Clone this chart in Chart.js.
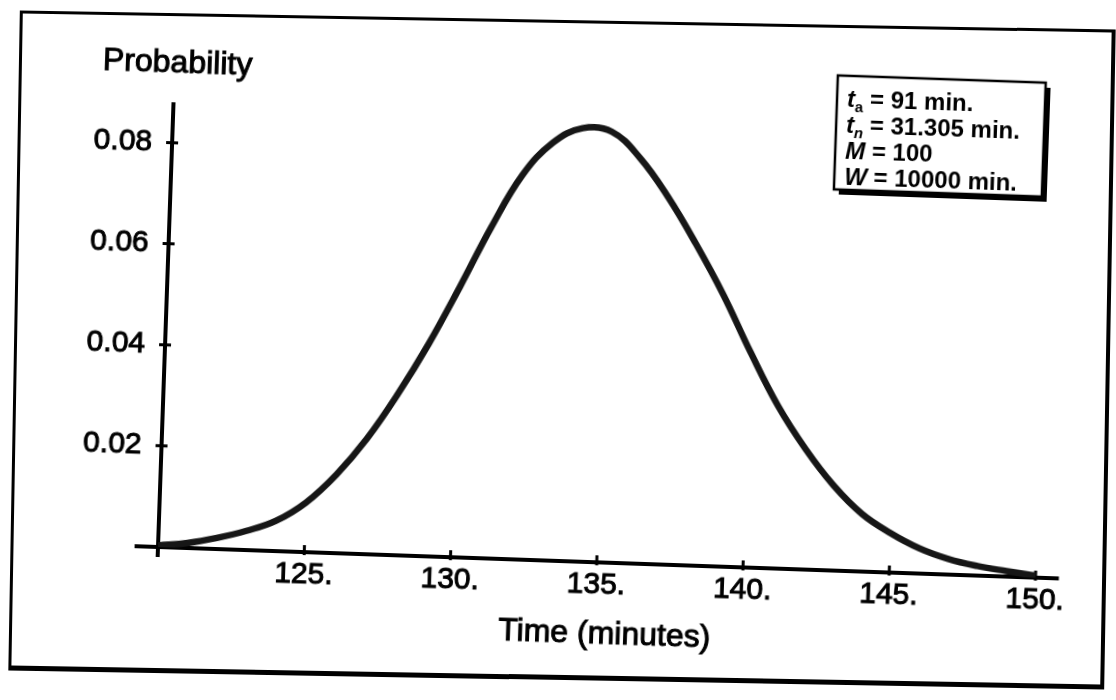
<!DOCTYPE html>
<html>
<head>
<meta charset="utf-8">
<script src="https://cdn.jsdelivr.net/npm/chart.js@4.4.1/dist/chart.umd.min.js"></script>
<style>
  html, body { margin: 0; padding: 0; background: #fff; overflow: hidden; }
  #page { position: relative; width: 1116px; height: 700px; }
  /* scanned page: outer frame and plot are both a little tilted */
  #frame { position: absolute; left: 14px; top: 20px; width: 1096px; height: 660px; box-sizing: border-box;
           border: 3px solid #000; border-bottom-width: 5px; border-right-width: 4px; transform: rotate(1deg); }
  #plot { position: absolute; left: 0; top: 0; width: 1116px; height: 700px;
          transform-origin: 158px 547px; transform: rotate(2deg); }
</style>
</head>
<body>
<div id="page">
  <div id="frame"></div>
  <div id="plot"><canvas id="chart"></canvas></div>
</div>
<script>
// Time (minutes) and probability
const times = [120, 121, 122, 123, 124, 125, 126, 127, 128, 129, 130,
               131, 132, 133, 134, 135, 136, 137, 138, 139, 140,
               141, 142, 143, 144, 145, 146, 147, 148, 149, 150];
const probability = [0.0003, 0.0010, 0.0022, 0.0038, 0.0060, 0.0098, 0.0155, 0.0228, 0.0318, 0.0420, 0.0535,
                     0.0655, 0.0760, 0.0826, 0.0857, 0.0852, 0.0802, 0.0727, 0.0637, 0.0538, 0.0426,
                     0.0322, 0.0238, 0.0168, 0.0114, 0.0078, 0.0050, 0.0031, 0.0019, 0.0011, 0.0004];

const xTicks = [125, 130, 135, 140, 145, 150];
const yTicks = [0.02, 0.04, 0.06, 0.08];

// parameter box
const legendVars = ['t', 't', 'M', 'W'];
const legendSubs = ['a', 'n', '', ''];
const legendValues = ['= 91 min.', '= 31.305 min.', '= 100', '= 10000 min.'];

const FONT = '"Liberation Sans", Arial, Helvetica, sans-serif';
Chart.defaults.font.family = FONT;
Chart.defaults.color = '#000';

// scanned text is a bit heavier than plain regular weight
function heavyText(ctx, text, x, y) {
    ctx.fillText(text, x, y);
    ctx.strokeText(text, x, y);
}

// Mathematica-style axes crossing at (120, 0), with small ticks through the line
const axesPlugin = {
    id: 'mathAxes',
    beforeDatasetsDraw(chart) {
        const ctx = chart.ctx;
        const xs = chart.scales.x, ys = chart.scales.y;
        const x0 = xs.getPixelForValue(120);
        const y0 = ys.getPixelForValue(0);
        ctx.save();
        ctx.strokeStyle = '#000';
        ctx.lineWidth = 4;
        ctx.beginPath();
        ctx.moveTo(xs.getPixelForValue(119.2), y0);
        ctx.lineTo(xs.getPixelForValue(150.8), y0);
        ctx.moveTo(x0, ys.getPixelForValue(-0.002));
        ctx.lineTo(x0, ys.getPixelForValue(0.088));
        ctx.stroke();
        ctx.lineWidth = 3;
        ctx.beginPath();
        xTicks.forEach(v => {
            const px = xs.getPixelForValue(v);
            ctx.moveTo(px, y0 - 7);
            ctx.lineTo(px, y0 + 3);
        });
        yTicks.forEach(v => {
            const py = ys.getPixelForValue(v);
            ctx.moveTo(x0 - 6, py);
            ctx.lineTo(x0 + 6, py);
        });
        ctx.stroke();
        ctx.restore();
    },
    afterDraw(chart) {
        const ctx = chart.ctx;
        const area = chart.chartArea;
        ctx.save();
        ctx.fillStyle = '#000';
        ctx.strokeStyle = '#000';
        ctx.lineWidth = 1;

        // axis titles
        ctx.font = '32px ' + FONT;
        ctx.textAlign = 'left';
        ctx.textBaseline = 'alphabetic';
        heavyText(ctx, 'Probability', area.left - 72, area.top - 30);
        ctx.textAlign = 'center';
        heavyText(ctx, 'Time (minutes)', (area.left + area.right) / 2 + 10, area.bottom + 81);

        // parameter box with drop shadow
        const bx = area.right - 215, by = area.top - 50, bw = 208, bh = 114;
        ctx.fillRect(bx + 5, by + 5, bw, bh);
        ctx.fillStyle = '#fff';
        ctx.fillRect(bx, by, bw, bh);
        ctx.lineWidth = 2.5;
        ctx.strokeRect(bx, by, bw, bh);
        ctx.fillStyle = '#000';
        ctx.textAlign = 'left';
        legendVars.forEach((v, i) => {
            let tx = bx + 10;
            const ty = by + 31 + i * 26;
            ctx.font = 'italic bold 24px ' + FONT;
            ctx.fillText(v, tx, ty);
            tx += ctx.measureText(v).width;
            if (legendSubs[i]) {
                ctx.font = (legendSubs[i] === 'n' ? 'italic ' : '') + 'bold 15px ' + FONT;
                ctx.fillText(legendSubs[i], tx, ty + 5);
                tx += ctx.measureText(legendSubs[i]).width;
            }
            ctx.font = 'bold 24px ' + FONT;
            ctx.fillText(' ' + legendValues[i], tx, ty);
        });
        ctx.restore();
    }
};

const ctx = document.getElementById('chart').getContext('2d');
window.myChart = new Chart(ctx, {
    type: 'line',
    data: {
        datasets: [{
            data: times.map((t, i) => ({ x: t, y: probability[i] })),
            borderColor: '#161616',
            borderWidth: 6.5,
            pointRadius: 0,
            fill: false,
            tension: 0.4
        }]
    },
    options: {
        responsive: true,
        maintainAspectRatio: false,
        animation: false,
        layout: { padding: { left: 58, right: 80, top: 102, bottom: 63 } },
        plugins: { legend: { display: false }, tooltip: { enabled: false } },
        scales: {
            x: {
                type: 'linear',
                min: 120,
                max: 150,
                grid: { display: false },
                border: { display: false },
                afterBuildTicks: scale => { scale.ticks = xTicks.map(v => ({ value: v })); },
                afterFit: scale => { scale.height = 90; },
                ticks: {
                    padding: -3,
                    maxRotation: 0,
                    font: { size: 30 },
                    textStrokeColor: '#000',
                    textStrokeWidth: 1,
                    callback: value => value + '.'
                }
            },
            y: {
                min: 0,
                max: 0.088,
                grid: { display: false },
                border: { display: false },
                afterBuildTicks: scale => { scale.ticks = yTicks.map(v => ({ value: v })); },
                afterFit: scale => { scale.width = 100; },
                ticks: {
                    padding: 12,
                    font: { size: 30 },
                    textStrokeColor: '#000',
                    textStrokeWidth: 1,
                    callback: value => value.toFixed(2)
                }
            }
        }
    },
    plugins: [axesPlugin]
});
</script>
</body>
</html>
